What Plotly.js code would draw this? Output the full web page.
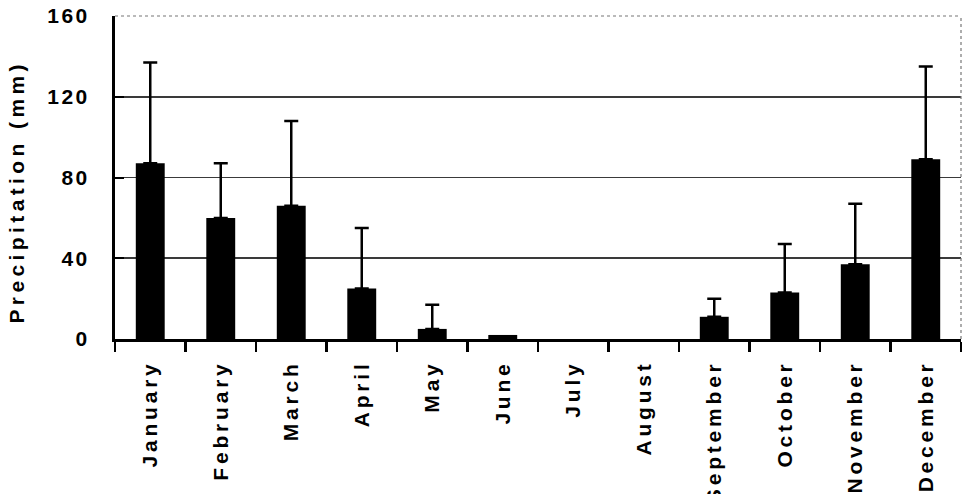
<!DOCTYPE html>
<html>
<head>
<meta charset="utf-8">
<script src="https://cdn.plot.ly/plotly-3.0.1.min.js"></script>
<style>
  html, body { margin: 0; padding: 0; background: #fff; }
  #chart { width: 972px; height: 494px; }
  .xtick text { letter-spacing: 3.8px; }
  .ytick text { letter-spacing: 2.5px; }
  .annotation-text { letter-spacing: 4.4px; }
</style>
</head>
<body>
<div id="chart"></div>
<script>
const months = ["January","February","March","April","May","June","July","August","September","October","November","December"];
const meanPrecip = [87, 60, 66, 25, 5, 2, 0, 0, 11, 23, 37, 89];
const sdPlus = [50, 27, 42, 30, 12, null, null, null, 9, 24, 30, 46];
const yTickVals = [0, 40, 80, 120, 160];
const gridVals = [40, 80, 120];
const yTitle = "Precipitation (mm)";

const font = {family: "Arial, 'Liberation Sans', sans-serif", size: 21, color: "#000", weight: "bold"};

const trace = {
  type: "bar",
  x: months,
  y: meanPrecip,
  marker: {color: "#000", line: {width: 0}},
  error_y: {type: "data", symmetric: false,
            array: sdPlus.map(v => v === null ? NaN : v),
            arrayminus: sdPlus.map(v => v === null ? NaN : 0),
            color: "#000", thickness: 2.5, width: 7},
  hoverinfo: "none"
};
// invisible helper trace to carry the grid axis
const gridTrace = {type: "scatter", x: [months[0]], y: [0], yaxis: "y2", mode: "markers",
  marker: {opacity: 0}, hoverinfo: "none", showlegend: false};

const layout = {
  width: 972, height: 494,
  margin: {l: 115, r: 11, t: 16, b: 155},
  paper_bgcolor: "#fff", plot_bgcolor: "rgba(0,0,0,0)",
  showlegend: false,
  bargap: 0.59,
  font: font,
  xaxis: {
    type: "category",
    range: [-0.5, months.length - 0.5],
    tickson: "boundaries",
    ticks: "outside", ticklen: 10, tickwidth: 2.5, tickcolor: "#000",
    showline: true, linecolor: "#000", linewidth: 3,
    showgrid: false, zeroline: false,
    tickangle: -90,
    ticklabelstandoff: 10,
    tickfont: font
  },
  yaxis: {
    range: [0, 160],
    tickvals: yTickVals,
    ticktext: yTickVals.map(String),
    ticks: "inside", ticklen: 9, tickwidth: 2, tickcolor: "#000",
    showline: true, linecolor: "#000", linewidth: 3,
    showgrid: false, zeroline: false,
    ticklabelstandoff: 18,
    tickfont: font
  },
  yaxis2: {
    overlaying: "y", range: [0, 160], tickvals: gridVals,
    showticklabels: false, ticks: "", showline: false, zeroline: false,
    showgrid: true, gridcolor: "#3a3a3a", gridwidth: 1.8
  },
  annotations: [{
    text: yTitle, textangle: -90, showarrow: false,
    xref: "paper", yref: "paper", x: -0.116, y: 0.456,
    xanchor: "center", yanchor: "middle", font: font
  }],
  shapes: [
    {type: "line", xref: "paper", yref: "paper", x0: 0, x1: 1, y0: 1, y1: 1,
     line: {color: "#777", width: 1.2, dash: "dot"}},
    {type: "line", xref: "paper", yref: "paper", x0: 1, x1: 1, y0: 0, y1: 1,
     line: {color: "#777", width: 1.2, dash: "dot"}}
  ]
};

Plotly.newPlot("chart", [trace, gridTrace], layout, {staticPlot: true, displayModeBar: false});
</script>
</body>
</html>
